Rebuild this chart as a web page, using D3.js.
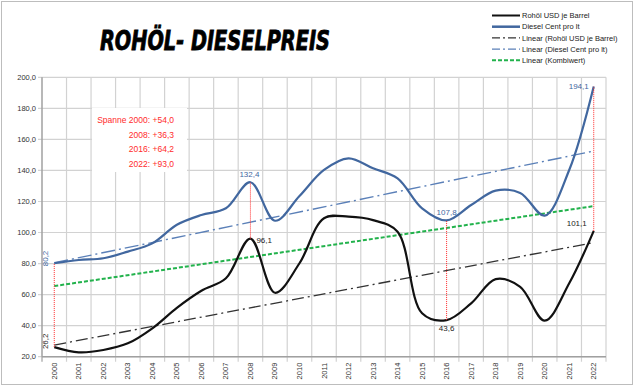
<!DOCTYPE html>
<html>
<head>
<meta charset="utf-8">
<script src="https://cdn.jsdelivr.net/npm/d3@7"></script>
<style>
  body { margin: 0; background: #fff; }
  svg { display: block; font-family: "Liberation Sans", Arial, sans-serif; }
</style>
</head>
<body>
<svg id="chart" width="635" height="389"></svg>
<script>
// data
var years = d3.range(2000, 2023);
var rohoel = [26.2, 22.8, 24.3, 28.6, 38.3, 51.5, 62.5, 70.5, 96.1, 61.2, 80.2, 109.2, 110.2, 108.0, 100.5, 48.0, 43.6, 54.4, 70.0, 65.0, 43.2, 67.3, 101.1];
var diesel = [80.2, 82.3, 83.4, 87.7, 93.0, 105.0, 111.3, 115.6, 132.4, 107.6, 123.5, 140.3, 147.8, 141.4, 134.9, 115.6, 107.8, 117.7, 127.0, 125.5, 110.9, 140.3, 194.1];
// trend lines (start 2000, end 2022)
var trendRohoel = [27.5, 93.5];
var trendDiesel = [80.5, 152.5];
var trendKombi = [65.5, 117.0];
var markYears = [2000, 2008, 2016, 2022];
var yTicks = d3.range(20, 201, 20);

var legendItems = [
    {name: "Rohöl USD je  Barrel", color: "#111", width: 2, dash: null},
    {name: "Diesel Cent pro lt", color: "#41679f", width: 2.5, dash: null},
    {name: "Linear (Rohöl USD je  Barrel)", color: "#333", width: 1.3, dash: "8,3,2,3"},
    {name: "Linear (Diesel Cent pro lt)", color: "#5b80b8", width: 1.3, dash: "8,3,2,3"},
    {name: "Linear (Kombiwert)", color: "#22b24c", width: 2, dash: "4,2"}
];

var svg = d3.select("#chart");
var plotLeft = 42, plotRight = 606, plotTop = 77.3, plotBottom = 356.7;
var fmt = function (v) { return d3.format(".1f")(v).replace(".", ","); };

// outer frame
svg.append("rect")
    .attr("x", 1.5).attr("y", 1.5)
    .attr("width", 631).attr("height", 383)
    .attr("fill", "#fff")
    .attr("stroke", "#bdbdbd");

var x = d3.scaleBand().domain(years).range([plotLeft, plotRight]).padding(0);
var y = d3.scaleLinear().domain([20, 200]).range([plotBottom, plotTop]);
var cx = function (yr) { return x(yr) + x.bandwidth() / 2; };

// gridlines
var grid = svg.append("g");
grid.selectAll(".hg").data(yTicks).enter().append("line")
    .attr("x1", plotLeft - 4).attr("x2", plotRight)
    .attr("y1", function (d) { return y(d); })
    .attr("y2", function (d) { return y(d); })
    .attr("stroke", "#d2d2d2").attr("stroke-width", 1.2);
grid.selectAll(".vg").data(years.slice(1).concat([2023])).enter().append("line")
    .attr("x1", function (d) { return d === 2023 ? plotRight : x(d); })
    .attr("x2", function (d) { return d === 2023 ? plotRight : x(d); })
    .attr("y1", plotTop).attr("y2", plotBottom + 5)
    .attr("stroke", "#d2d2d2").attr("stroke-width", 1.2);

// axes lines
svg.append("line").attr("x1", plotLeft).attr("x2", plotLeft).attr("y1", plotTop).attr("y2", plotBottom)
    .attr("stroke", "#a0a0a0").attr("stroke-width", 1.5);
svg.append("line").attr("x1", plotLeft).attr("x2", plotRight).attr("y1", plotBottom).attr("y2", plotBottom)
    .attr("stroke", "#a0a0a0").attr("stroke-width", 1.5);
svg.append("line").attr("x1", plotLeft).attr("x2", plotLeft).attr("y1", plotBottom).attr("y2", plotBottom + 5)
    .attr("stroke", "#a0a0a0").attr("stroke-width", 1.2);

// tick labels
svg.append("g").selectAll("text").data(yTicks).enter().append("text")
    .attr("x", 36).attr("y", function (d) { return y(d) + 2.5; })
    .attr("text-anchor", "end")
    .attr("font-size", "7.5px").attr("fill", "#333")
    .text(function (d) { return fmt(d); });
svg.append("g").selectAll("text").data(years).enter().append("text")
    .attr("transform", function (d) { return "translate(" + (cx(d) + 2.5) + "," + (plotBottom + 6) + ") rotate(-90)"; })
    .attr("text-anchor", "end")
    .attr("font-size", "7.5px").attr("fill", "#333")
    .text(function (d) { return d; });

// span box
svg.append("rect").attr("x", 92).attr("y", 108).attr("width", 95).attr("height", 64).attr("fill", "#fff");

// trend lines
var trendLine = function (vals, color, width, dash) {
    svg.append("line")
        .attr("x1", cx(years[0])).attr("y1", y(vals[0]))
        .attr("x2", cx(years[years.length - 1])).attr("y2", y(vals[1]))
        .attr("stroke", color).attr("stroke-width", width)
        .attr("stroke-dasharray", dash);
};
trendLine(trendKombi, legendItems[4].color, 2, "4,2");
trendLine(trendRohoel, legendItems[2].color, 1.3, "12,4,2,4");
trendLine(trendDiesel, legendItems[3].color, 1.4, "14,4,2,4");

// series curves
var line = d3.line()
    .x(function (d, i) { return cx(years[i]); })
    .y(function (d) { return y(d); })
    .curve(d3.curveCatmullRom.alpha(0.5));
svg.append("path").attr("d", line(diesel)).attr("fill", "none")
    .attr("stroke", legendItems[1].color).attr("stroke-width", 2.2);
svg.append("path").attr("d", line(rohoel)).attr("fill", "none")
    .attr("stroke", legendItems[0].color).attr("stroke-width", 2.2);

// red dotted span lines
markYears.forEach(function (yr) {
    var i = years.indexOf(yr);
    svg.append("line")
        .attr("x1", cx(yr)).attr("x2", cx(yr))
        .attr("y1", y(rohoel[i])).attr("y2", y(diesel[i]))
        .attr("stroke", "#ff2b2b").attr("stroke-width", 1)
        .attr("stroke-dasharray", "1,1");
});

// value labels
var lab = svg.append("g").attr("font-size", "8px");
var i0 = 0, i8 = 8, i16 = 16, i22 = 22;
lab.append("text").attr("transform", "translate(" + (cx(2000) - 6) + "," + (y(diesel[i0]) + 3) + ") rotate(-90)")
    .attr("fill", "#41679f").text(fmt(diesel[i0]));
lab.append("text").attr("transform", "translate(" + (cx(2000) - 6) + "," + (y(rohoel[i0]) + 2) + ") rotate(-90)")
    .attr("fill", "#222").text(fmt(rohoel[i0]));
lab.append("text").attr("x", cx(2008) - 1).attr("y", y(diesel[i8]) - 5).attr("text-anchor", "middle")
    .attr("fill", "#41679f").text(fmt(diesel[i8]));
lab.append("text").attr("x", cx(2008) + 6).attr("y", y(rohoel[i8]) + 4).attr("fill", "#222")
    .text(fmt(rohoel[i8]));
lab.append("text").attr("x", cx(2016)).attr("y", y(diesel[i16]) - 5).attr("text-anchor", "middle")
    .attr("fill", "#41679f").text(fmt(diesel[i16]));
lab.append("text").attr("x", cx(2016)).attr("y", y(rohoel[i16]) + 11).attr("text-anchor", "middle")
    .attr("fill", "#222").text(fmt(rohoel[i16]));
lab.append("text").attr("x", cx(2022) - 7).attr("y", y(rohoel[i22]) - 5).attr("text-anchor", "end")
    .attr("fill", "#222").text(fmt(rohoel[i22]));
lab.append("text").attr("x", cx(2022) - 5).attr("y", y(diesel[i22]) + 3).attr("text-anchor", "end")
    .attr("fill", "#41679f").text(fmt(diesel[i22]));

// span texts
var spans = markYears.map(function (yr) {
    var i = years.indexOf(yr);
    return {year: yr, v: diesel[i] - rohoel[i]};
});
svg.append("g").selectAll("text").data(spans).enter().append("text")
    .attr("x", 174).attr("y", function (d, i) { return 123 + i * 14.5; })
    .attr("text-anchor", "end")
    .attr("font-size", "8.5px").attr("fill", "#ff2b2b")
    .text(function (d, i) { return (i === 0 ? "Spanne " : "") + d.year + ": +" + fmt(d.v); });

// title
svg.append("text")
    .attr("x", 100).attr("y", 50)
    .attr("font-family", "'DejaVu Sans Condensed', 'DejaVu Sans', sans-serif")
    .attr("font-size", "27px").attr("font-weight", "bold").attr("font-style", "italic")
    .attr("textLength", 230).attr("lengthAdjust", "spacingAndGlyphs")
    .attr("fill", "#000").attr("stroke", "#000").attr("stroke-width", 0.8)
    .text("ROHÖL- DIESELPREIS");

// legend
var leg = svg.append("g").selectAll("g").data(legendItems).enter().append("g")
    .attr("transform", function (d, i) { return "translate(492," + (15.5 + i * 11.2) + ")"; });
leg.append("line").attr("x1", 0).attr("x2", 28).attr("y1", 0).attr("y2", 0)
    .attr("stroke", function (d) { return d.color; })
    .attr("stroke-width", function (d) { return d.width; })
    .attr("stroke-dasharray", function (d) { return d.dash; });
leg.append("text").attr("x", 30).attr("y", 2.6)
    .attr("font-size", "7.5px").attr("fill", "#222")
    .text(function (d) { return d.name; });
</script>
</body>
</html>
